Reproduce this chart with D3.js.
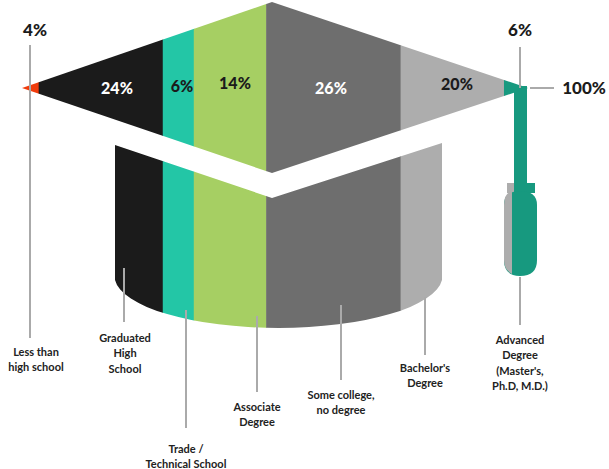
<!DOCTYPE html>
<html><head><meta charset="utf-8">
<script src="https://cdn.jsdelivr.net/npm/d3@7"></script>
<style>body{margin:0;background:#fff}svg{display:block}</style>
</head><body>
<script>
const categories = ["Less than high school","Graduated High School","Trade / Technical School","Associate Degree","Some college, no degree","Bachelor's Degree","Advanced Degree (Master's, Ph.D, M.D.)"];
const values = [4,24,6,14,26,20,6];
const colors = ["#f03c0c","#1b1b1b","#23c6a6","#a6cf63","#6e6e6e","#adadad","#17997f"];
const labelLines = [["Less than","high school"],["Graduated","High","School"],["Trade /","Technical School"],["Associate","Degree"],["Some college,","no degree"],["Bachelor's","Degree"],["Advanced","Degree","(Master's,","Ph.D, M.D.)"]];
const totalLabel = "100%";

const W=609,H=469;
const svg=d3.select("body").append("svg").attr("width",W).attr("height",H);
const x=d3.scaleLinear().domain([0,100]).range([18,535]);
let cum=0;
const segs=values.map((v,i)=>{const s={i,v,a:cum,b:cum+v};cum+=v;return s;});

const defs=svg.append("defs");
defs.append("clipPath").attr("id","cap").append("path").attr("d","M22,88 L272,2 L528,88 L272,173 Z");
defs.append("clipPath").attr("id","body").append("path").attr("d","M115,145 L272,198 L442,143 L442,280 A164,52 0 0 1 115,280 Z");

const body=svg.append("g").attr("clip-path","url(#body)");
body.selectAll("rect").data(segs).join("rect")
 .attr("x",d=>x(d.a)).attr("width",d=>x(d.b)-x(d.a)+0.5).attr("y",100).attr("height",260)
 .attr("fill",d=>colors[d.i]);
const cap=svg.append("g").attr("clip-path","url(#cap)");
cap.selectAll("rect").data(segs).join("rect")
 .attr("x",d=>x(d.a)).attr("width",d=>x(d.b)-x(d.a)+0.5).attr("y",0).attr("height",180)
 .attr("fill",d=>colors[d.i]);

// tassel
const t=svg.append("g");
t.append("rect").attr("x",514).attr("y",86).attr("width",13).attr("height",98).attr("fill",colors[6]);
t.append("rect").attr("x",507).attr("y",183).attr("width",28).attr("height",10).attr("fill",colors[6]);
t.append("rect").attr("x",507).attr("y",183).attr("width",7).attr("height",10).attr("fill",colors[5]);
t.append("path").attr("d","M504,205 Q504,191 520,191 Q537,191 537,205 L537,260 Q537,276 520,276 Q504,276 504,260 Z").attr("fill",colors[6]);
t.append("path").attr("d","M504,205 Q504,193 512,191 L512,274 Q504,270 504,260 Z").attr("fill",colors[5]);

// percentage labels in cap
const inPos=[null,[117,88],[182,86],[235,83],[331,88],[457,84],null];
const inFill=[null,"#fff","#1b1b1b","#1b1b1b","#fff","#1b1b1b",null];
segs.forEach(d=>{ if(inPos[d.i]) svg.append("text").attr("x",inPos[d.i][0]).attr("y",inPos[d.i][1]).attr("dy","0.35em")
  .attr("text-anchor","middle").attr("font-family","Lato, sans-serif").attr("font-weight",900).attr("font-size",16)
  .attr("fill",inFill[d.i]).text(d.v+"%");});
const outer=[[35,30,values[0]+"%"],[520,30,values[6]+"%"],[584,88,totalLabel]];
outer.forEach(p=>svg.append("text").attr("x",p[0]).attr("y",p[1]).attr("dy","0.35em").attr("text-anchor","middle")
 .attr("font-family","Lato, sans-serif").attr("font-weight",900).attr("font-size",17).attr("fill","#1b1b1b").text(p[2]));

// leader lines
const lines=[[30,45,338],[124,268,322],[186,310,428],[257,316,392],[341,305,380],[425,297,355],[520,277,325],[520,47,88]];
lines.forEach(l=>svg.append("line").attr("x1",l[0]).attr("x2",l[0]).attr("y1",l[1]).attr("y2",l[2]).attr("stroke","#aaa").attr("stroke-width",2));
svg.append("line").attr("x1",530).attr("x2",554).attr("y1",88).attr("y2",88).attr("stroke","#aaa").attr("stroke-width",2);

const lab=[[36,352],[125,338],[186,449],[257,407],[341,395],[425,368],[520,340]];
labelLines.forEach((ls,i)=>{
  const tx=svg.append("text").attr("text-anchor","middle").attr("font-family","Lato, sans-serif").attr("font-weight",700)
   .attr("font-size",11).attr("fill","#222");
  ls.forEach((s,j)=>tx.append("tspan").attr("x",lab[i][0]).attr("y",lab[i][1]+j*15.5).attr("dy","0.35em").text(s));
});
</script>
</body></html>
